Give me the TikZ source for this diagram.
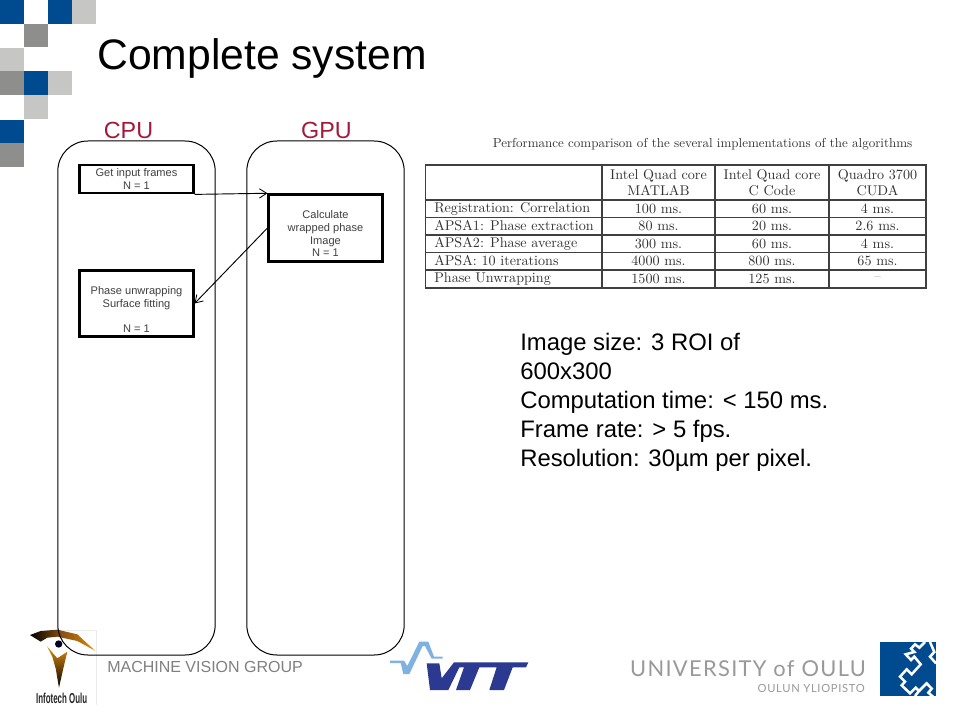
\documentclass[tikz,border=0pt]{standalone}
\usepackage{fontspec}
\setmainfont{Liberation Sans}
\newfontfamily\cm{Latin Modern Roman}
\newfontfamily\lato[LetterSpace=6]{Lato}
\usetikzlibrary{arrows.meta}
\definecolor{oblue}{HTML}{004A8F}
\definecolor{ogray}{HTML}{8E8E8C}
\definecolor{olight}{HTML}{C6C6C4}
\definecolor{cpured}{HTML}{A3193B}
\definecolor{tabtext}{HTML}{333333}
\definecolor{vttdark}{HTML}{2B3990}
\definecolor{vttlight}{HTML}{7FB2E0}
\definecolor{eyeorange}{HTML}{E08A12}
\definecolor{eyebrown}{HTML}{8A5210}
\tikzset{
  sq/.style={fill=#1,draw=none},
  lane/.style={draw=black,line width=0.75pt,rounded corners=22.5pt,minimum width=118pt,minimum height=385.5pt,inner sep=0pt},
  lanehead/.style={text=cpured,font=\fontsize{17.5}{20}\selectfont,inner sep=0pt},
  stepbox/.style={draw=black,line width=2.1pt,minimum width=85pt,inner sep=0pt,align=center,font=\fontsize{8.3}{9.5}\selectfont,text=black!75},
  flow/.style={line width=0.7pt,-{Straight Barb[length=5.5pt,width=7pt,line width=0.6pt]}},
  tabrule/.style={draw=black!75,line width=0.8pt},
  tabcell/.style={font=\cm\fontsize{10.6}{12}\selectfont,text=tabtext,inner sep=0pt,align=center},
  tabrow/.style={tabcell,anchor=west},
  body/.style={font=\fontsize{17.9}{21.7}\selectfont,anchor=north west,inner sep=0pt,align=left},
}
\begin{document}
\begin{tikzpicture}[x=0.75pt,y=-0.75pt]
\useasboundingbox (0,0) rectangle (960,720);
\fill[white] (0,0) rectangle (960,720);
% corner squares
\fill[sq=oblue] (0,0) rectangle (24,24);
\fill[sq=oblue] (48,0) rectangle (72,24);
\fill[sq=olight] (72,0) rectangle (96,24);
\fill[sq=ogray] (24,24) rectangle (48,47);
\fill[sq=olight] (0,48) rectangle (24,71);
\fill[sq=ogray] (0,71) rectangle (24,95);
\fill[sq=oblue] (24,71) rectangle (48,95);
\fill[sq=olight] (48,71) rectangle (72,95);
\fill[sq=olight] (24,95) rectangle (48,119);
\fill[sq=oblue] (0,120) rectangle (24,143);
\fill[sq=ogray] (0,143) rectangle (24,167);
% title
\node[anchor=base west,inner sep=0pt,font=\fontsize{32}{38}\selectfont] (title) at (97,70) {Complete system};
% infotech logo
\begin{scope}[shift={(24,625)},x=0.25pt,y=-0.25pt]
\draw[black!8,line width=0.5pt] (100,16) -- (217,16) -- (217,240);
\shade[left color=black,right color=eyeorange,middle color=eyebrown]
 (18,30) -- (50,18) -- (100,14) -- (160,28) -- (213,77) -- (160,48) -- (100,35) -- (70,38) -- (50,50) -- cycle;
\shade[top color=eyeorange,bottom color=black]
 (70,65) -- (100,100) -- (130,80) -- (118,130) -- (105,188) -- (95,130) -- (85,95) -- cycle;
\fill[black!85!blue] (104,57) circle[radius=11];
\node[inner sep=0pt,font=\bfseries\fontsize{9}{10}\selectfont,text=black!85] (infotech) at (113,220) {\scalebox{0.66}[1.2]{Infotech Oulu}};
\end{scope}
% lanes
\node[lane] (cpu) at (136.5,398) {};
\node[lane] (gpu) at (325.5,398) {};
\node[lanehead] (cpuh) at (128.5,130) {CPU};
\node[lanehead] (gpuh) at (326.5,130) {GPU};
% boxes
\node[stepbox,minimum height=21pt] (get) at (136.5,179) {Get input frames\\N = 1};
\node[stepbox,minimum height=50pt] (calc) at (325.5,228) {\rule{0pt}{15pt}Calculate\\wrapped phase\\Image\\N = 1};
\node[stepbox,minimum height=50pt] (unwrap) at (136.5,303.5) {\rule{0pt}{15pt}Phase unwrapping\\Surface fitting\\\mbox{}\\N = 1};
\draw[flow] (get.south east) -- (calc.north west);
\draw[flow] (calc.west) -- (unwrap.east);
% table
\node[anchor=west,inner sep=0pt,font=\cm\fontsize{9.76}{11}\selectfont,text=tabtext] (tabtitle) at (492.5,144) {Performance comparison of the several implementations of the algorithms};
\draw[tabrule] (425.5,165) rectangle (926,288);
\foreach \y in {200,217.5,235,252.5,270} \draw[tabrule] (425.5,\y) -- (926,\y);
\foreach \x in {602,715,829} \draw[tabrule] (\x,165) -- (\x,288);
\node[tabcell] (h1) at (658.5,182.5) {Intel Quad core\\MATLAB};
\node[tabcell] (h2) at (772,182.5) {Intel Quad core\\C Code};
\node[tabcell] (h3) at (877.5,182.5) {Quadro 3700\\CUDA};
\node[tabrow] (r1) at (434,208.5) {Registration: Correlation};
\node[tabrow] (r2) at (434,226) {APSA1: Phase extraction};
\node[tabrow] (r3) at (434,243.5) {APSA2: Phase average};
\node[tabrow] (r4) at (434,261) {APSA: 10 iterations};
\node[tabrow] (r5) at (434,279) {Phase Unwrapping};
\node[tabcell] (a1) at (658.5,208.5) {100 ms.};
\node[tabcell] (a2) at (658.5,226) {80 ms.};
\node[tabcell] (a3) at (658.5,243.5) {300 ms.};
\node[tabcell] (a4) at (658.5,261) {4000 ms.};
\node[tabcell] (a5) at (658.5,279) {1500 ms.};
\node[tabcell] (b1) at (772,208.5) {60 ms.};
\node[tabcell] (b2) at (772,226) {20 ms.};
\node[tabcell] (b3) at (772,243.5) {60 ms.};
\node[tabcell] (b4) at (772,261) {800 ms.};
\node[tabcell] (b5) at (772,279) {125 ms.};
\node[tabcell] (c1) at (877.5,208.5) {4 ms.};
\node[tabcell] (c2) at (877.5,226) {2.6 ms.};
\node[tabcell] (c3) at (877.5,243.5) {4 ms.};
\node[tabcell] (c4) at (877.5,261) {65 ms.};
\node[tabcell,text=black!45] (c5) at (877.5,279) {–};
% body text
\node[body] (facts) at (520,333) {Image size: 3 ROI of\\600x300\\Computation time: < 150 ms.\\Frame rate: > 5 fps.\\Resolution: 30µm per pixel.};
% footer
\node[anchor=west,inner sep=0pt,font=\fontsize{12}{14}\selectfont,text=black!50] (mvg) at (107,667) {MACHINE VISION GROUP};
% VTT logo
\begin{scope}[shift={(380,630)},x=0.25pt,y=-0.25pt]
\fill[vttlight] (30,92) -- (72,92) -- (82,108) -- (118,35) -- (145,35) -- (162,80) -- (188,80) -- (188,86) -- (155,86) -- (135,48) -- (128,48) -- (88,132) -- (70,132) -- (62,99) -- (30,99) -- cycle;
\fill[vttdark] (140,100) -- (178,100) -- (185,145) -- (222,97) -- (445,97) -- (438,112) -- (398,112) -- (372,180) -- (328,180) -- (350,112) -- (298,112) -- (270,180) -- (228,180) -- (252,112) -- (238,112) -- (205,180) -- (150,180) -- cycle;
\end{scope}
% University of Oulu
\node[anchor=east,inner sep=0pt,font=\lato\fontsize{16.4}{20}\selectfont,text=black!40] (uni) at (866,669) {UNIVERSITY of OULU};
\node[anchor=east,inner sep=0pt,font=\lato\fontsize{8.4}{10}\selectfont,text=black!40] (yli) at (865,688) {OULUN YLIOPISTO};
% Oulu mark
\begin{scope}[shift={(875,636)},x=0.25pt,y=-0.25pt]
\fill[oblue] (16,18) rectangle (183,180);
\begin{scope}
\clip (16,18) rectangle (183,180);
\draw[white,line width=1.9pt,line join=miter]
 (150,18) -- (133,35) -- (120,25) -- (108,38) -- (118,48) -- (92,55) -- (108,72) -- (118,62) -- (137,85) -- (110,115) -- (95,100) -- (75,122) -- (90,137) -- (80,148) -- (105,172) -- (122,155) -- (132,165) -- (120,180);
\draw[white,line width=1.9pt,line join=miter]
 (165,18) -- (178,48) -- (165,62) -- (183,82);
\draw[white,line width=1.9pt,line join=miter]
 (132,165) -- (155,142) -- (170,158) -- (160,170) -- (175,183);
\end{scope}
\end{scope}
\end{tikzpicture}
\end{document}
